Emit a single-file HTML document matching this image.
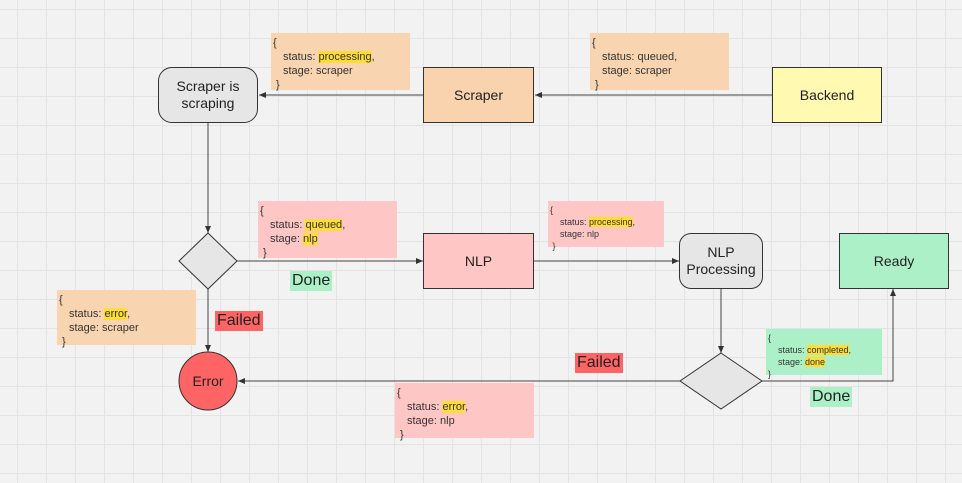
<!DOCTYPE html>
<html><head><meta charset="utf-8"><style>
body{margin:0;width:962px;height:483px;overflow:hidden;background:#f2f2f2;
background-image:linear-gradient(#e3e3e3 1px,transparent 1px),linear-gradient(90deg,#e3e3e3 1px,transparent 1px);
background-size:29px 29px;background-position:17px 9px;font-family:"Liberation Sans",sans-serif;position:relative;color:#222}
.b{position:absolute;box-sizing:border-box;display:flex;align-items:center;justify-content:center;text-align:center;font-size:14px;line-height:17px;border:1px solid #333}
.n{position:absolute;box-sizing:border-box;font-size:11px;line-height:14px;padding:3px 2px;color:#333}
.n span{display:block;padding-left:10px}
.n i{font-style:normal;background:#ffdd33}
.s{font-size:9px;line-height:12px}
.l{position:absolute;font-size:16px;line-height:20px;padding:0 2px}
</style></head><body>
<svg width="962" height="483" style="position:absolute;left:0;top:0">
<defs><marker id="a" markerWidth="8" markerHeight="8" refX="7" refY="4" orient="auto"><path d="M0,1 L7,4 L0,7z" fill="#333"/></marker></defs>
<g stroke="#444" stroke-width="1" fill="none">
<line x1="772" y1="95" x2="535" y2="95" marker-end="url(#a)"/>
<line x1="423" y1="95" x2="259" y2="95" marker-end="url(#a)"/>
<line x1="208" y1="123" x2="208" y2="233" marker-end="url(#a)"/>
<line x1="237" y1="261" x2="423" y2="261" marker-end="url(#a)"/>
<line x1="534" y1="261" x2="679" y2="261" marker-end="url(#a)"/>
<line x1="721" y1="289" x2="721" y2="353" marker-end="url(#a)"/>
<path d="M762,381 H893 V289" marker-end="url(#a)"/>
<line x1="680" y1="381" x2="238" y2="381" marker-end="url(#a)"/>
<line x1="208" y1="289" x2="208" y2="352" marker-end="url(#a)"/>
</g>
<polygon points="208,233 237,261 208,289 179,261" fill="#e6e6e6" stroke="#333"/>
<polygon points="721,353 762,381 721,409 680,381" fill="#e6e6e6" stroke="#333"/>
<circle cx="208" cy="381" r="29" fill="#ff6464" stroke="#333"/>
<text x="208" y="386" text-anchor="middle" font-family="Liberation Sans" font-size="14" fill="#222">Error</text>
</svg>
<div class="b" style="left:158px;top:67px;width:100px;height:56px;background:#e6e6e6;border-radius:14px">Scraper is<br>scraping</div>
<div class="b" style="left:423px;top:67px;width:111px;height:56px;background:#f8d3ad">Scraper</div>
<div class="b" style="left:772px;top:67px;width:110px;height:56px;background:#fff9b1">Backend</div>
<div class="b" style="left:423px;top:233px;width:111px;height:56px;background:#ffc6c6">NLP</div>
<div class="b" style="left:679px;top:233px;width:84px;height:56px;background:#e6e6e6;border-radius:12px">NLP<br>Processing</div>
<div class="b" style="left:839px;top:233px;width:110px;height:56px;background:#acf0c8">Ready</div>
<div class="n" style="left:271px;top:33px;width:139px;height:57px;background:#f8d5b0">{<span>status: <i>processing</i>,</span><span>stage: scraper</span>&nbsp;}</div>
<div class="n" style="left:590px;top:33px;width:139px;height:57px;background:#f8d5b0">{<span>status: queued,</span><span>stage: scraper</span>&nbsp;}</div>
<div class="n" style="left:258px;top:201px;width:139px;height:57px;background:#ffc6c6">{<span>status: <i>queued</i>,</span><span>stage: <i>nlp</i></span>&nbsp;}</div>
<div class="n s" style="left:548px;top:201px;width:116px;height:46px;background:#ffc6c6">{<span>status: <i>processing</i>,</span><span>stage: nlp</span>&nbsp;}</div>
<div class="n" style="left:57px;top:290px;width:139px;height:55px;background:#f8d5b0">{<span>status: <i>error</i>,</span><span>stage: scraper</span>&nbsp;}</div>
<div class="n s" style="left:766px;top:329px;width:116px;height:46px;background:#acf0c8">{<span>status: <i>completed</i>,</span><span>stage: <i>done</i></span>}</div>
<div class="n" style="left:395px;top:383px;width:139px;height:55px;background:#ffc6c6">{<span>status: <i>error</i>,</span><span>stage: nlp</span>&nbsp;}</div>
<div class="l" style="left:290px;top:271px;background:#acf0c8">Done</div>
<div class="l" style="left:215px;top:311px;background:#ff6464">Failed</div>
<div class="l" style="left:575px;top:353px;background:#ff6464">Failed</div>
<div class="l" style="left:810px;top:387px;background:#acf0c8">Done</div>
</body></html>
